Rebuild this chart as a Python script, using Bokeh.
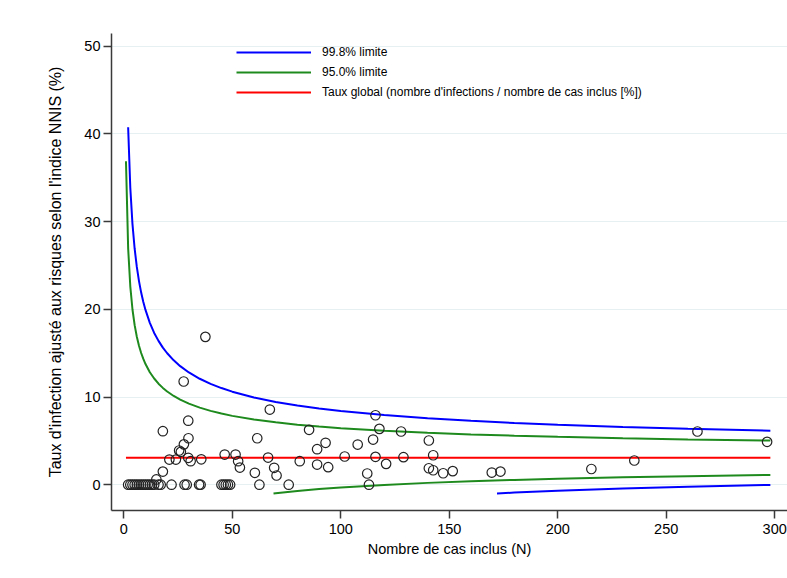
from bokeh.plotting import figure
from bokeh.models import Range1d, FixedTicker, Legend, LegendItem
from bokeh.embed import file_html
from bokeh.resources import INLINE

# ---- data ----
# hospitals: number of included cases (N) and risk-adjusted infection rate (%)
zero_n = [2, 3, 4, 5, 6, 7, 8, 9, 10, 11, 12, 13, 14, 16, 17, 22, 28, 29,
          34.7, 35.4, 45, 46, 47, 48, 49, 62.5, 76, 113]
zero_rate = [0.0] * len(zero_n)
pos_n = [18, 29.7, 29.8, 27.7, 25.5, 26.3, 21, 24, 29.7, 30.8, 35.7, 18, 15,
         27.6, 37.6,
         67.3, 85.4, 61.5, 46.5, 51.5, 52.7, 53.5, 66.5, 69.3, 70.4, 60.4, 81.1,
         116, 117.8, 127.8, 140.6, 89.1, 93, 107.8, 114.9, 101.8, 116, 128.9,
         142.6, 89.1, 94.2, 120.9, 140.6, 142.6, 147.2, 112.2,
         151.6, 169.6, 173.6, 215.5, 235.3, 264.4, 296.5]
pos_rate = [6.1, 7.3, 5.3, 4.6, 3.9, 3.75, 2.87, 2.87, 3.07, 2.68, 2.9, 1.5, 0.6,
            11.77, 16.86,
            8.57, 6.26, 5.3, 3.44, 3.44, 2.68, 1.96, 3.1, 1.93, 1.05, 1.36, 2.68,
            7.92, 6.37, 6.07, 5.04, 4.05, 4.78, 4.58, 5.15, 3.22, 3.18, 3.14,
            3.36, 2.3, 2.0, 2.38, 1.88, 1.65, 1.31, 1.28,
            1.55, 1.39, 1.5, 1.79, 2.76, 6.07, 4.89]
case_n = zero_n + pos_n
rate = zero_rate + pos_rate

# control limits
up998_n = [2, 3, 4, 5, 6, 7, 8, 9, 10, 12, 14, 16, 18, 20, 23, 26, 30, 35, 40, 45,
           50, 60, 70, 80, 90, 100, 120, 140, 160, 180, 200, 230, 260, 298]
up998 = [40.76, 33.84, 29.72, 26.91, 24.83, 23.22, 21.91, 20.84, 19.93, 18.46,
         17.31, 16.40, 15.63, 14.99, 14.18, 13.52, 12.80, 12.08, 11.50, 11.02,
         10.61, 9.95, 9.44, 9.03, 8.69, 8.40, 7.94, 7.57, 7.28, 7.04, 6.84, 6.58,
         6.38, 6.16]
up95_n = [1, 2, 3, 4, 5, 6, 7, 8, 9, 10, 12, 14, 16, 18, 20, 23, 26, 30, 35, 40, 45,
          50, 60, 70, 80, 90, 100, 120, 140, 160, 180, 200, 230, 260, 298]
up95 = [36.88, 26.98, 22.59, 19.98, 18.19, 16.87, 15.85, 15.02, 14.34, 13.76,
        12.83, 12.11, 11.52, 11.04, 10.63, 10.12, 9.70, 9.24, 8.79, 8.42, 8.11,
        7.85, 7.43, 7.11, 6.85, 6.63, 6.45, 6.16, 5.93, 5.74, 5.59, 5.46, 5.30,
        5.17, 5.03]
lo95_n = [69, 70, 80, 90, 100, 120, 140, 160, 180, 200, 230, 260, 298]
lo95 = [-1.00, -0.97, -0.71, -0.49, -0.31, -0.02, 0.21, 0.40, 0.55, 0.68, 0.84,
        0.97, 1.11]
lo998_n = [172, 180, 200, 230, 260, 298]
lo998 = [-0.99, -0.90, -0.70, -0.44, -0.24, -0.02]
overall_n = [1, 298]
overall = [3.07, 3.07]

x_ticks = [0, 50, 100, 150, 200, 250, 300]
y_ticks = [0, 10, 20, 30, 40, 50]

FONT = "Liberation Sans"

p = figure(width=787, height=578, output_backend="svg", toolbar_location=None,
           x_range=Range1d(-5.67, 305.9), y_range=Range1d(-2.94, 51.45),
           min_border_left=111, min_border_right=0, min_border_top=33,
           min_border_bottom=68)
p.outline_line_color = None
p.background_fill_color = "white"
p.border_fill_color = "white"

p.xgrid.visible = False
p.ygrid.grid_line_color = "#e6eff2"
p.ygrid.grid_line_width = 1
p.yaxis.ticker = FixedTicker(ticks=y_ticks)
p.xaxis.ticker = FixedTicker(ticks=x_ticks)

for ax in (p.xaxis[0], p.yaxis[0]):
    ax.axis_line_color = "#3a3a3a"
    ax.axis_line_width = 1.5
    ax.major_tick_line_color = "#3a3a3a"
    ax.major_tick_line_width = 1.5
    ax.major_tick_out = 8
    ax.major_tick_in = 0
    ax.minor_tick_line_color = None
    ax.major_label_text_font = FONT
    ax.major_label_text_font_size = "14.5px"
    ax.major_label_text_color = "black"
    ax.axis_label_text_font = FONT
    ax.axis_label_text_font_style = "normal"
    ax.axis_label_text_color = "black"

p.xaxis.axis_label = "Nombre de cas inclus (N)"
p.yaxis.axis_label = "Taux d'infection ajusté aux risques selon l'indice NNIS (%)"
p.xaxis.axis_label_text_font_size = "14.5px"
p.yaxis.axis_label_text_font_size = "16px"
p.xaxis.major_label_standoff = 5
p.xaxis.axis_label_standoff = 4
p.yaxis.major_label_standoff = 3
p.yaxis.axis_label_standoff = 17

BLUE = "#0000ff"
GREEN = "#1e8a1e"
RED = "#ff0000"

r_up998 = p.line(up998_n, up998, line_color=BLUE, line_width=2)
p.line(lo998_n, lo998, line_color=BLUE, line_width=2)
r_up95 = p.line(up95_n, up95, line_color=GREEN, line_width=2)
p.line(lo95_n, lo95, line_color=GREEN, line_width=2)
r_all = p.line(overall_n, overall, line_color=RED, line_width=2)

p.scatter(case_n, rate, marker="circle", size=9.5, fill_color=None,
          line_color="#222222", line_width=1.2)

legend = Legend(items=[
    LegendItem(label="99.8% limite", renderers=[r_up998]),
    LegendItem(label="95.0% limite", renderers=[r_up95]),
    LegendItem(label="Taux global (nombre d'infections / nombre de cas inclus [%])",
               renderers=[r_all]),
])
legend.location = (125, 408)
legend.padding = 0
legend.margin = 0
legend.spacing = 0
legend.glyph_width = 75
legend.glyph_height = 20
legend.label_height = 20
legend.label_standoff = 11
legend.label_text_font = FONT
legend.label_text_font_size = "12px"
legend.label_text_color = "black"
legend.border_line_color = None
legend.background_fill_alpha = 0
p.add_layout(legend)

open("out.html", "w").write(file_html(p, INLINE))
